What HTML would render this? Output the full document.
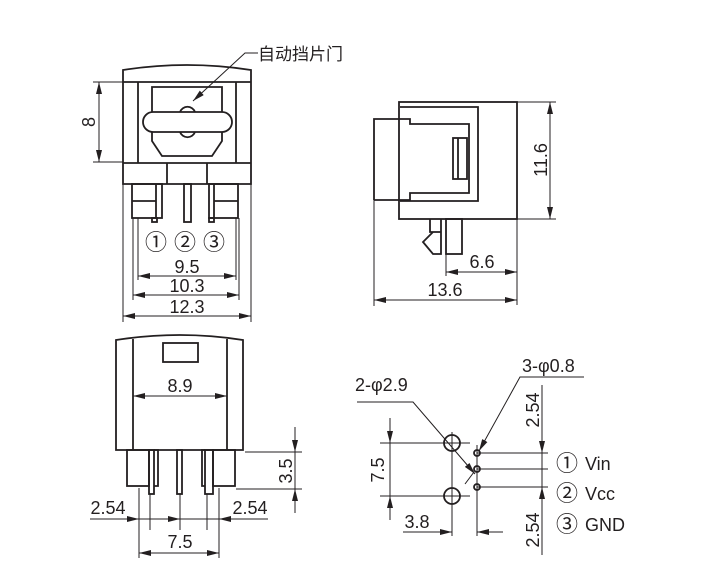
<!DOCTYPE html>
<html><head><meta charset="utf-8"><style>
html,body{margin:0;padding:0;background:#fff;}
svg{display:block;}
text{font-family:"Liberation Sans","Noto Sans CJK SC",sans-serif;fill:#231f20;}
</style></head><body>
<svg width="717" height="586" viewBox="0 0 717 586" xmlns="http://www.w3.org/2000/svg">
<defs>
<marker id="a" viewBox="0 0 12 6" refX="12" refY="3" markerWidth="12" markerHeight="6" orient="auto-start-reverse" markerUnits="userSpaceOnUse"><path d="M0,0 L12,3 L0,6 Z" fill="#231f20"/></marker>
</defs>
<g fill="none" stroke="#231f20" stroke-width="1.8">
<path d="M123,184 L123,70 Q187,60 251,70 L251,184 Z"/>
<line x1="123" y1="82" x2="251" y2="82"/>
<line x1="123" y1="163" x2="251" y2="163"/>
<line x1="138" y1="82" x2="138" y2="163"/>
<line x1="236" y1="82" x2="236" y2="163"/>
<line x1="167" y1="163" x2="167" y2="184"/>
<line x1="207" y1="163" x2="207" y2="184"/>
<path d="M152,112 L152,87 L222,87 L222,112"/>
<path d="M152,132 L152,141 L162,156 L212,156 L222,141 L222,132"/>
<rect x="143" y="112" width="89" height="20" rx="10"/>
<path d="M180,112 A8,8 0 0 1 195,112"/>
<path d="M180,132 A8,8 0 0 0 195,132"/>
<rect x="132" y="184" width="30" height="34"/>
<line x1="132" y1="201" x2="156" y2="201"/>
<line x1="156" y1="184" x2="156" y2="218"/>
<rect x="152" y="218" width="5" height="4"/>
<rect x="184" y="184" width="7" height="38"/>
<rect x="209" y="184" width="29" height="34"/>
<line x1="214" y1="201" x2="238" y2="201"/>
<line x1="214" y1="184" x2="214" y2="218"/>
<rect x="209" y="218" width="5" height="4"/>
<rect x="399" y="102" width="118" height="117"/>
<path d="M400,107 L478,107 L478,201 L400,201"/>
<path d="M374,200 L374,119 L410,119 L410,124 L469,124 L469,193 L410,193 L410,200 L374,200"/>
<rect x="453" y="138" width="14" height="41"/>
<line x1="458" y1="138" x2="458" y2="179"/>
<path d="M430,219 L430,232 L441,232 M441,219 L441,254 L433,254 L423,242 L433,232"/>
<rect x="446" y="219" width="16" height="35"/>
<path d="M116,450 L116,340 Q180,330 243,340 L243,450 Z"/>
<line x1="133" y1="339" x2="133" y2="450"/>
<line x1="227" y1="339" x2="227" y2="450"/>
<rect x="163" y="343" width="35" height="19"/>
<rect x="127" y="450" width="22" height="36"/>
<rect x="149" y="450" width="5" height="44"/>
<path d="M154,450 L158,450 L158,486 L154,486"/>
<rect x="177" y="450" width="5" height="44"/>
<rect x="213" y="450" width="22" height="36"/>
<rect x="205" y="450" width="8" height="44"/>
<path d="M205,450 L202,450 L202,486 L205,486"/>
<circle cx="452" cy="443" r="8"/>
<circle cx="452" cy="496" r="8"/>
<circle cx="477" cy="453" r="3"/>
<circle cx="477" cy="469" r="3"/>
<circle cx="477" cy="487" r="3"/>
</g>
<g fill="none" stroke="#231f20" stroke-width="1">
<line x1="93" y1="82" x2="123" y2="82"/>
<line x1="93" y1="162" x2="123" y2="162"/>
<line x1="99" y1="82" x2="99" y2="162" marker-start="url(#a)" marker-end="url(#a)"/>
<line x1="123" y1="184" x2="123" y2="322"/>
<line x1="251" y1="184" x2="251" y2="322"/>
<line x1="133" y1="218" x2="133" y2="300"/>
<line x1="239" y1="218" x2="239" y2="300"/>
<line x1="138" y1="218" x2="138" y2="280"/>
<line x1="236" y1="218" x2="236" y2="280"/>
<line x1="138" y1="276" x2="236" y2="276" marker-start="url(#a)" marker-end="url(#a)"/>
<line x1="133" y1="295" x2="239" y2="295" marker-start="url(#a)" marker-end="url(#a)"/>
<line x1="123" y1="316" x2="251" y2="316" marker-start="url(#a)" marker-end="url(#a)"/>
<path d="M258,53 L245,53 L193,101" marker-end="url(#a)"/>
<line x1="517" y1="102" x2="556" y2="102"/>
<line x1="517" y1="219" x2="556" y2="219"/>
<line x1="550" y1="102" x2="550" y2="219" marker-start="url(#a)" marker-end="url(#a)"/>
<line x1="446" y1="254" x2="446" y2="276"/>
<line x1="517" y1="219" x2="517" y2="305"/>
<line x1="374" y1="200" x2="374" y2="306"/>
<line x1="446" y1="272" x2="517" y2="272" marker-start="url(#a)" marker-end="url(#a)"/>
<line x1="374" y1="300" x2="517" y2="300" marker-start="url(#a)" marker-end="url(#a)"/>
<line x1="133" y1="396" x2="227" y2="396" marker-start="url(#a)" marker-end="url(#a)"/>
<line x1="245" y1="452" x2="302" y2="452"/>
<line x1="236" y1="489" x2="302" y2="489"/>
<line x1="295" y1="427" x2="295" y2="452" marker-end="url(#a)"/>
<line x1="295" y1="452" x2="295" y2="489"/>
<line x1="295" y1="513" x2="295" y2="489" marker-end="url(#a)"/>
<line x1="139" y1="488" x2="139" y2="558"/>
<line x1="219" y1="488" x2="219" y2="558"/>
<line x1="150" y1="494" x2="150" y2="530"/>
<line x1="180" y1="494" x2="180" y2="530"/>
<line x1="207" y1="494" x2="207" y2="530"/>
<line x1="90" y1="519" x2="139" y2="519" marker-end="url(#a)"/>
<line x1="139" y1="519" x2="219" y2="519"/>
<line x1="160" y1="519" x2="180" y2="519" marker-end="url(#a)"/>
<line x1="268" y1="519" x2="219" y2="519" marker-end="url(#a)"/>
<line x1="139" y1="553" x2="219" y2="553" marker-start="url(#a)" marker-end="url(#a)"/>
<line x1="380" y1="443" x2="470" y2="443"/>
<line x1="380" y1="496" x2="470" y2="496"/>
<line x1="390" y1="418" x2="390" y2="443" marker-end="url(#a)"/>
<line x1="390" y1="443" x2="390" y2="496"/>
<line x1="390" y1="520" x2="390" y2="496" marker-end="url(#a)"/>
<line x1="452" y1="432" x2="452" y2="536"/>
<line x1="477" y1="445" x2="477" y2="536"/>
<line x1="477" y1="453" x2="548" y2="453"/>
<line x1="477" y1="469" x2="548" y2="469"/>
<line x1="477" y1="487" x2="548" y2="487"/>
<line x1="403" y1="532" x2="452" y2="532" marker-end="url(#a)"/>
<line x1="503" y1="532" x2="477" y2="532" marker-end="url(#a)"/>
<line x1="542" y1="385" x2="542" y2="453" marker-end="url(#a)"/>
<line x1="542" y1="453" x2="542" y2="487"/>
<line x1="542" y1="555" x2="542" y2="487" marker-end="url(#a)"/>
<path d="M357,402 L413,402 L475,474" marker-end="url(#a)"/>
<path d="M584,377 L520,377 L479,451" marker-end="url(#a)"/>
<line x1="474" y1="472" x2="465" y2="484"/>
</g>
<g font-size="18">
<text x="258" y="60" font-size="17">自动挡片门</text>
<text transform="translate(95,122) rotate(-90)" text-anchor="middle">8</text>
<text x="156" y="250" text-anchor="middle" font-size="22">①</text>
<text x="185" y="250" text-anchor="middle" font-size="22">②</text>
<text x="214" y="250" text-anchor="middle" font-size="22">③</text>
<text x="187" y="273" text-anchor="middle">9.5</text>
<text x="187" y="292" text-anchor="middle">10.3</text>
<text x="187" y="313" text-anchor="middle">12.3</text>
<text transform="translate(547,160) rotate(-90)" text-anchor="middle">11.6</text>
<text x="482" y="268" text-anchor="middle">6.6</text>
<text x="445" y="296" text-anchor="middle">13.6</text>
<text x="180" y="392" text-anchor="middle">8.9</text>
<text transform="translate(292,471) rotate(-90)" text-anchor="middle">3.5</text>
<text x="108" y="514" text-anchor="middle">2.54</text>
<text x="250" y="514" text-anchor="middle">2.54</text>
<text x="180" y="548" text-anchor="middle">7.5</text>
<text transform="translate(384,470) rotate(-90)" text-anchor="middle">7.5</text>
<text x="417" y="528" text-anchor="middle">3.8</text>
<text x="355" y="391">2-φ2.9</text>
<text x="522" y="372">3-φ0.8</text>
<text transform="translate(539,410) rotate(-90)" text-anchor="middle">2.54</text>
<text transform="translate(539,530) rotate(-90)" text-anchor="middle">2.54</text>
<text x="556" y="471" font-size="22">①</text><text x="585" y="470">Vin</text>
<text x="556" y="501" font-size="22">②</text><text x="585" y="500">Vcc</text>
<text x="556" y="532" font-size="22">③</text><text x="585" y="531">GND</text>
</g>
</svg>
</body></html>
